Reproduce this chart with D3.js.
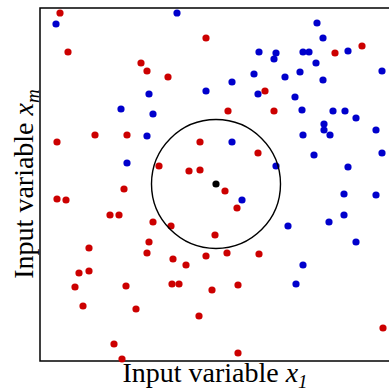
<!DOCTYPE html>
<html>
<head>
<meta charset="utf-8">
<script src="https://cdn.jsdelivr.net/npm/d3@7"></script>
<style>
  html, body { margin: 0; padding: 0; background: #fff; }
  svg { display: block; }
</style>
</head>
<body>
<script>
// Data (x1, xm) in arbitrary input-space units
const redX = [20,28,101,107,128,55,87,17,160,119,149,160,84,17,26,166,295,322,225,188,234,218,185,70,79,113,131,109,49,107,133,146,39,49,35,86,132,139,43,96,159,74,82,197,175,166,187,219,172,198,343,198];
const redY = [348,309,298,290,284,226,226,219,219,195,190,191,172,162,161,323,308,315,270,250,250,208,170,146,146,139,135,119,113,108,102,96,88,90,74,75,77,77,55,52,45,17,2,153,126,105,108,107,71,76,33,8];
const blueX = [16,137,109,81,113,107,87,277,283,219,236,234,263,269,308,276,342,214,260,245,283,192,166,218,255,262,293,305,316,284,284,290,336,263,192,342,274,236,308,202,304,336,304,289,248,316,263,256];
const blueY = [337,348,267,252,247,225,198,338,323,309,308,302,309,309,310,298,290,287,289,284,281,279,270,267,264,251,250,250,243,237,231,226,231,226,219,208,206,195,194,161,167,166,146,139,135,119,96,77];
const queryPoint = [176, 177];
const neighbourhoodRadius = 64.5;
const xDomain = [0, 360];
const yDomain = [0, 353];
const xLabel = "Input variable ";
const xSub = "1";
const yLabel = "Input variable ";
const ySub = "m";

const W = 389, H = 389;
const svg = d3.select("body").append("svg").attr("width", W).attr("height", H);
svg.append("rect").attr("width", W).attr("height", H).attr("fill", "#fff");

const x = d3.scaleLinear().domain(xDomain).range([40, 400]);
const y = d3.scaleLinear().domain(yDomain).range([361, 8]);

// frame (top, left, bottom; right edge falls outside the picture)
svg.append("rect")
  .attr("x", x(xDomain[0])).attr("y", y(yDomain[1]))
  .attr("width", x(xDomain[1]) - x(xDomain[0]))
  .attr("height", y(yDomain[0]) - y(yDomain[1]))
  .attr("fill", "none").attr("stroke", "#000").attr("stroke-width", 1.5);

const red = redX.map((v, i) => [v, redY[i]]);
const blue = blueX.map((v, i) => [v, blueY[i]]);

svg.append("g").selectAll("circle").data(red).join("circle")
  .attr("cx", d => x(d[0])).attr("cy", d => y(d[1])).attr("r", 3.6)
  .attr("fill", "#cc0000");
svg.append("g").selectAll("circle").data(blue).join("circle")
  .attr("cx", d => x(d[0])).attr("cy", d => y(d[1])).attr("r", 3.6)
  .attr("fill", "#0000cc");

svg.append("circle")
  .attr("cx", x(queryPoint[0])).attr("cy", y(queryPoint[1]))
  .attr("r", x(neighbourhoodRadius) - x(0))
  .attr("fill", "none").attr("stroke", "#000").attr("stroke-width", 1.4);

svg.append("circle")
  .attr("cx", x(queryPoint[0])).attr("cy", y(queryPoint[1])).attr("r", 3.6)
  .attr("fill", "#000");

const font = "'Liberation Serif', 'Times New Roman', serif";

const xt = svg.append("text")
  .attr("x", 215).attr("y", 382)
  .attr("text-anchor", "middle")
  .attr("font-family", font).attr("font-size", 28).attr("fill", "#000");
xt.append("tspan").text(xLabel);
xt.append("tspan").attr("font-style", "italic").text("x");
xt.append("tspan").attr("font-style", "italic").attr("font-size", 19).attr("dy", 6).text(xSub);

const yt = svg.append("text")
  .attr("transform", "translate(32.5,184) rotate(-90)")
  .attr("text-anchor", "middle")
  .attr("font-family", font).attr("font-size", 28).attr("fill", "#000");
yt.append("tspan").text(yLabel);
yt.append("tspan").attr("font-style", "italic").text("x");
yt.append("tspan").attr("font-style", "italic").attr("font-size", 19).attr("dy", 6).text(ySub);
</script>
</body>
</html>
